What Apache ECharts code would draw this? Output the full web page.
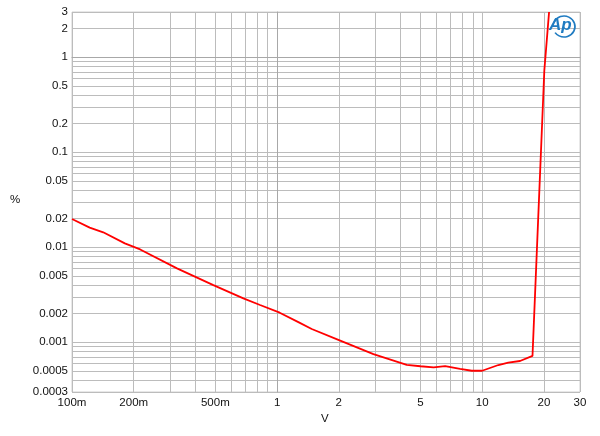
<!DOCTYPE html>
<html>
<head>
<meta charset="utf-8">
<script src="https://cdn.jsdelivr.net/npm/echarts@6/dist/echarts.min.js"></script>
<style>html,body{margin:0;padding:0;background:#fff}#c{width:600px;height:436px}</style>
</head>
<body>
<div id="c"></div>
<script>
var voltage = [0.1, 0.122, 0.142, 0.181, 0.215, 0.325, 0.489, 0.685, 0.826, 1.03, 1.27, 1.476, 1.99, 2.95, 4.29, 5.0, 5.8, 6.6, 7.8, 8.9, 10.0, 12.0, 13.4, 15.3, 17.6, 20.1, 21.2];
var thdn = [0.0199, 0.0161, 0.0144, 0.0110, 0.0095, 0.0060, 0.0040, 0.0029, 0.00247, 0.00205, 0.00163, 0.00138, 0.00106, 0.00075, 0.00058, 0.00056, 0.000545, 0.000562, 0.000526, 0.000502, 0.000502, 0.000577, 0.00061, 0.000636, 0.00072, 0.73, 3.0];

var xTickValues = [0.1, 0.2, 0.5, 1, 2, 5, 10, 20, 30];
var xTickLabels = ['100m', '200m', '500m', '1', '2', '5', '10', '20', '30'];
var yTickValues = [0.0003, 0.0005, 0.001, 0.002, 0.005, 0.01, 0.02, 0.05, 0.1, 0.2, 0.5, 1, 2, 3];
var yTickLabels = ['0.0003', '0.0005', '0.001', '0.002', '0.005', '0.01', '0.02', '0.05', '0.1', '0.2', '0.5', '1', '2', '3'];
var xGridValues = [0.1,0.2,0.3,0.4,0.5,0.6,0.7,0.8,0.9,1,2,3,4,5,6,7,8,9,10,20,30];
var yGridValues = [0.0003,0.0004,0.0005,0.0006,0.0007,0.0008,0.0009,0.001,0.002,0.003,0.004,0.005,0.006,0.007,0.008,0.009,0.01,0.02,0.03,0.04,0.05,0.06,0.07,0.08,0.09,0.1,0.2,0.3,0.4,0.5,0.6,0.7,0.8,0.9,1,2,3];
var xMin = 0.1, xMax = 30, yMin = 0.0003, yMax = 3;

var L = Math.log10;
function nearestLabel(v, vals, labels) {
  var best = 0, bd = Infinity;
  for (var i = 0; i < vals.length; i++) {
    var d = Math.abs(L(vals[i]) - v);
    if (d < bd) { bd = d; best = i; }
  }
  return labels[best];
}
var data = voltage.map(function (x, i) { return [L(x), L(thdn[i])]; });
var font = 'Liberation Sans, Arial, sans-serif';
var gridColor = '#bcbcbc';

var chart = echarts.init(document.getElementById('c'), null, {renderer: 'canvas'});
chart.setOption({
  animation: false,
  backgroundColor: '#ffffff',
  grid: {left: 72, right: 20, top: 12, bottom: 44, show: true, borderColor: '#d0d0d0', borderWidth: 1},
  xAxis: {
    type: 'value', min: L(xMin), max: L(xMax),
    axisLine: {show: true, lineStyle: {color: '#a8a8a8', width: 1}},
    axisTick: {show: false, customValues: xGridValues.map(L)},
    splitLine: {show: true, lineStyle: {color: gridColor, width: 1}},
    axisLabel: {
      customValues: xTickValues.map(L), margin: 5,
      color: '#111', fontSize: 11.5, fontFamily: font,
      formatter: function (v) { return nearestLabel(v, xTickValues, xTickLabels); }
    }
  },
  yAxis: {
    type: 'value', min: L(yMin), max: L(yMax),
    axisLine: {show: true, lineStyle: {color: '#a8a8a8', width: 1}},
    axisTick: {show: false, customValues: yGridValues.map(L)},
    splitLine: {show: true, lineStyle: {color: gridColor, width: 1}},
    axisLabel: {
      customValues: yTickValues.map(L), margin: 4,
      color: '#111', fontSize: 11.5, fontFamily: font,
      formatter: function (v) { return nearestLabel(v, yTickValues, yTickLabels); }
    }
  },
  graphic: [
    {type: 'text', left: 10, top: 194, style: {text: '%', fill: '#111', font: '11.5px ' + font}},
    {type: 'text', left: 321, top: 413, style: {text: 'V', fill: '#111', font: '11.5px ' + font}},
    {type: 'arc', shape: {cx: 564, cy: 26.5, r: 11, startAngle: 3.6, endAngle: 8.8, clockwise: true},
      scaleY: 0.95, originX: 564, originY: 26.5,
      style: {fill: 'none', stroke: '#1f7bc1', lineWidth: 1.7}, z: 10},
    {type: 'text', left: 549, top: 17, style: {text: 'Ap', fill: '#1f7bc1', font: 'italic bold 17px ' + font}, z: 11}
  ],
  series: [{
    type: 'line', data: data, symbol: 'none', clip: true,
    lineStyle: {color: '#ff0000', width: 1.8}
  }]
});
</script>
</body>
</html>
